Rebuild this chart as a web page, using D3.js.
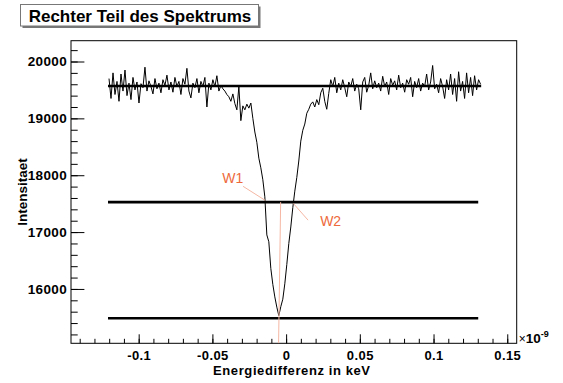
<!DOCTYPE html>
<html><head><meta charset="utf-8">
<script src="https://cdn.jsdelivr.net/npm/d3@7"></script>
<style>html,body{margin:0;padding:0;background:#fff}svg{display:block}</style>
</head><body>
<script>
// ---- data (x in units of 1e-9 keV) ----
const title = "Rechter Teil des Spektrums";
const xTitle = "Energiedifferenz in keV";
const yTitle = "Intensitaet";
const xDomain = [-0.1459, 0.1564];
const yDomain = [15044, 20366];
const xMajorTicks = [-0.1, -0.05, 0, 0.05, 0.1, 0.15];
const xTickLabels = ["-0.1", "-0.05", "0", "0.05", "0.1", "0.15"];
const yMajorTicks = [16000, 17000, 18000, 19000, 20000];
const yTickLabels = ["16000", "17000", "18000", "19000", "20000"];
const binStart = -0.1208;
const binWidth = 0.001355;
const counts = [
 19700,19350,19800,19420,19650,19300,19780,19480,19850,19400,19620,19330,
 19720,19500,19640,19270,19610,19540,19900,19480,19660,19560,19430,19700,
 19520,19620,19450,19680,19580,19760,19500,19640,19460,19720,19560,19650,
 19420,19700,19600,19880,19480,19360,19620,19540,19700,19450,19650,19560,
 19720,19200,19620,19500,19680,19560,19750,19480,19580,19520,
 19480,19420,19380,19300,19430,19260,19150,19560,18960,19220,19150,19250,
 19180,19270,19000,18760,18580,18300,18130,17920,17620,16950,16830,16360,
 16080,15860,15680,15530,15690,15820,16090,16430,16800,17090,17430,17720,
 17960,18250,18600,18790,18900,19090,19160,19250,19290,19200,19330,19240,
 19450,19530,19300,19160,19440,19680,
 19560,19720,19450,19620,19500,19680,19540,19380,19640,19560,19700,19480,19600,19520,19150,19640,19720,19460,19580,19800,
 19520,19660,19540,19620,19480,19740,19560,19640,19420,19700,19580,19660,19500,19760,19540,19620,19460,19680,19600,19720,
 19380,19650,19540,19700,19480,19620,19560,19780,19500,19640,19930,19520,19600,19450,19700,19560,19350,19680,19500,19780,
 19420,19700,19300,19820,19480,19650,19350,19800,19450,19720,19400,19750,19500,19680,19600
];
const hLevels = [19570, 17527, 15484];
const hStarts = [-0.1208, -0.1208, -0.1208];
const hEnds = [0.1323, 0.1303, 0.1303];
const centerLine = [[-0.0037, 17527], [-0.0051, 15044]];
const w1Line = [[-0.0292, 17805], [-0.0142, 17558]];
const w2Line = [[0.0049, 17504], [0.0149, 17210]];
const markerLabels = ["W1", "W2"];
const markerLabelPos = [[-0.0433, 17860], [0.0231, 17110]];

// ---- drawing ----
const W = 563, H = 383;
const L = 71, R = 516.7, T = 40.7, B = 343.3;
const FONT = "'Liberation Sans', Arial, sans-serif";
const svg = d3.select("body").append("svg").attr("width", W).attr("height", H)
  .style("font-family", FONT);
svg.append("rect").attr("width", W).attr("height", H).attr("fill", "#fff");

const x = d3.scaleLinear().domain(xDomain).range([L, R]);
const y = d3.scaleLinear().domain(yDomain).range([B, T]);

// frame
svg.append("rect").attr("x", L).attr("y", T).attr("width", R - L).attr("height", B - T)
  .attr("fill", "none").attr("stroke", "#000").attr("stroke-width", 1);

// x axis
const xMinor = d3.range(-14, 16).map(d => d / 100);
const xAxisMinor = d3.axisBottom(x).tickValues(xMinor).tickSize(-4.5).tickFormat("");
const xAxisMajor = d3.axisBottom(x).tickValues(xMajorTicks).tickSize(-9)
  .tickFormat((d, i) => xTickLabels[i]).tickPadding(7);
const gxm = svg.append("g").attr("transform", `translate(0,${B})`).call(xAxisMinor);
const gx = svg.append("g").attr("transform", `translate(0,${B})`).call(xAxisMajor);
[gxm, gx].forEach(g => { g.select(".domain").remove(); g.selectAll("line").attr("stroke", "#000"); });
gx.selectAll("text").attr("font-size", 13).attr("font-weight", "bold").attr("fill", "#000")
  .attr("letter-spacing", 0.4).attr("font-family", FONT);

// y axis
const yMinor = d3.range(15200, 20201, 200);
const yAxisMinor = d3.axisLeft(y).tickValues(yMinor).tickSize(-6.7).tickFormat("");
const yAxisMajor = d3.axisLeft(y).tickValues(yMajorTicks).tickSize(-13.4)
  .tickFormat((d, i) => yTickLabels[i]).tickPadding(4);
const gym = svg.append("g").attr("transform", `translate(${L},0)`).call(yAxisMinor);
const gy = svg.append("g").attr("transform", `translate(${L},0)`).call(yAxisMajor);
[gym, gy].forEach(g => { g.select(".domain").remove(); g.selectAll("line").attr("stroke", "#000"); });
gy.selectAll("text").attr("font-size", 13.5).attr("font-weight", "bold").attr("fill", "#000")
  .attr("letter-spacing", 0.35).attr("font-family", FONT);

// axis titles
svg.append("text").attr("x", (L + R) / 2 - 2).attr("y", 375).attr("text-anchor", "middle")
  .attr("font-size", 13).attr("font-weight", "bold").attr("letter-spacing", 0.6).text(xTitle);
svg.append("text").attr("transform", `translate(27,${(T + B) / 2}) rotate(-90)`)
  .attr("text-anchor", "middle").attr("font-size", 13.5).attr("font-weight", "bold").text(yTitle);

// exponent
const ex = svg.append("text").attr("x", R + 2).attr("y", B).attr("font-size", 12);
ex.append("tspan").text("\u00d7");
ex.append("tspan").attr("font-weight", "bold").attr("font-size", 13.5).text("10");
ex.append("tspan").attr("font-weight", "bold").attr("font-size", 9).attr("dy", -6).text("-9");

// clip
svg.append("clipPath").attr("id", "clip").append("rect")
  .attr("x", L).attr("y", T).attr("width", R - L).attr("height", B - T);
const plot = svg.append("g").attr("clip-path", "url(#clip)");

// spectrum
const pts = counts.map((c, i) => [binStart + (i + 0.5) * binWidth, c]);
plot.append("path").datum(pts)
  .attr("d", d3.line().x(d => x(d[0])).y(d => y(d[1])))
  .attr("fill", "none").attr("stroke", "#000").attr("stroke-width", 1);

// horizontal levels
hLevels.forEach((lv, i) => {
  plot.append("line").attr("x1", x(hStarts[i])).attr("x2", x(hEnds[i]))
    .attr("y1", y(lv)).attr("y2", y(lv)).attr("stroke", "#000").attr("stroke-width", 2.6);
});

// marker lines
const salmon = "#f5b7a3";
[centerLine, w1Line, w2Line].forEach(l => {
  plot.append("line").attr("x1", x(l[0][0])).attr("y1", y(l[0][1]))
    .attr("x2", x(l[1][0])).attr("y2", y(l[1][1]))
    .attr("stroke", salmon).attr("stroke-width", 1);
});
markerLabels.forEach((t, i) => {
  svg.append("text").attr("x", x(markerLabelPos[i][0])).attr("y", y(markerLabelPos[i][1]))
    .attr("font-size", 14).attr("fill", "#ee6a3c").text(t);
});

// title box
svg.append("rect").attr("x", 22.5).attr("y", 6.5).attr("width", 238).attr("height", 21.5)
  .attr("fill", "#777");
svg.append("rect").attr("x", 20.5).attr("y", 4.5).attr("width", 238).attr("height", 21.5)
  .attr("fill", "#fff").attr("stroke", "#777").attr("stroke-width", 1);
svg.append("text").attr("x", 140).attr("y", 21.5).attr("text-anchor", "middle")
  .attr("font-size", 17).attr("font-weight", "bold").text(title);
</script>
</body></html>
